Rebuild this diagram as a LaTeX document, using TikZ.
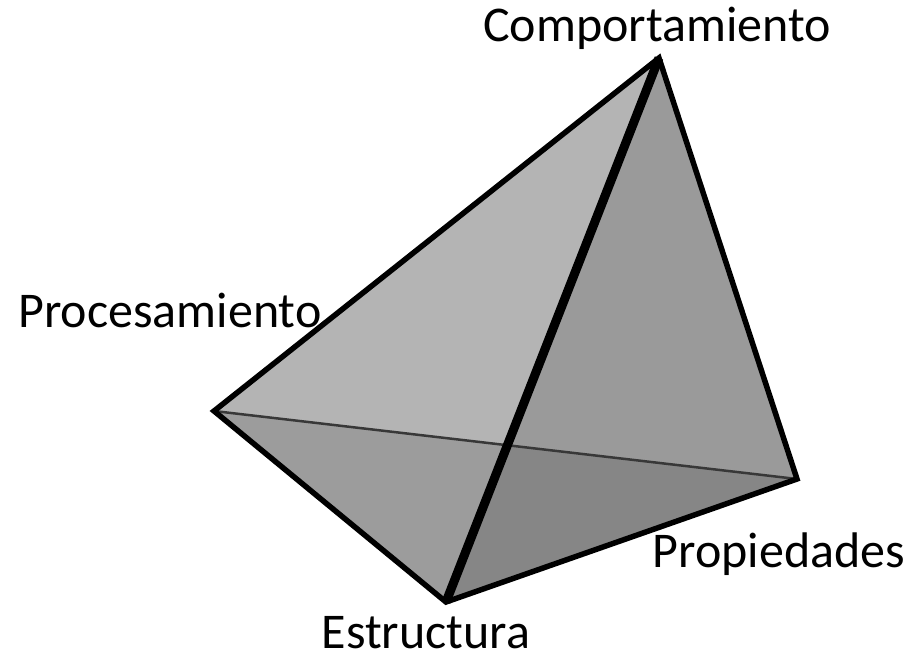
\documentclass[tikz,border=0pt]{standalone}
\usepackage{fontspec}
\setmainfont{Carlito}
\usetikzlibrary{backgrounds}

\begin{document}
\begin{tikzpicture}[
        x=1pt, y=-1pt,
        background rectangle/.style={fill=white},
        show background rectangle,
        face/.style={draw=none},
        edge/.style={line width=5.5pt, line join=miter},
        front edge/.style={line width=9pt, line cap=butt},
        hidden edge/.style={line width=2.5pt, draw=black!78},
        vertex label/.style={font=\fontsize{50}{54}\selectfont, anchor=base, inner sep=0pt}
    ]
    \useasboundingbox (0,0) rectangle (920,657);

    % vertices
    \coordinate (comp) at (659,58);
    \coordinate (proc) at (214,411);
    \coordinate (prop) at (797,479);
    \coordinate (estr) at (446,602);

    % faces
    \fill[face, fill={rgb,255:red,180;green,180;blue,180}] (comp) -- (proc) -- (estr) -- cycle;
    \fill[face, fill={rgb,255:red,154;green,154;blue,154}] (comp) -- (estr) -- (prop) -- cycle;
    \fill[face, fill=black, fill opacity=0.13] (proc) -- (estr) -- (prop) -- cycle;

    % edges
    \draw[hidden edge] (proc) -- (prop);
    \draw[front edge] (comp) -- (estr);
    \draw[edge] (proc) -- (comp) -- (prop) -- (estr) -- cycle;

    % labels
    \node[vertex label] (lcomp) at (657,41) {Comportamiento};
    \node[vertex label] (lproc) at (170,327) {Procesamiento};
    \node[vertex label] (lprop) at (779,567) {Propiedades};
    \node[vertex label] (lestr) at (426,648) {Estructura};
\end{tikzpicture}
\end{document}
